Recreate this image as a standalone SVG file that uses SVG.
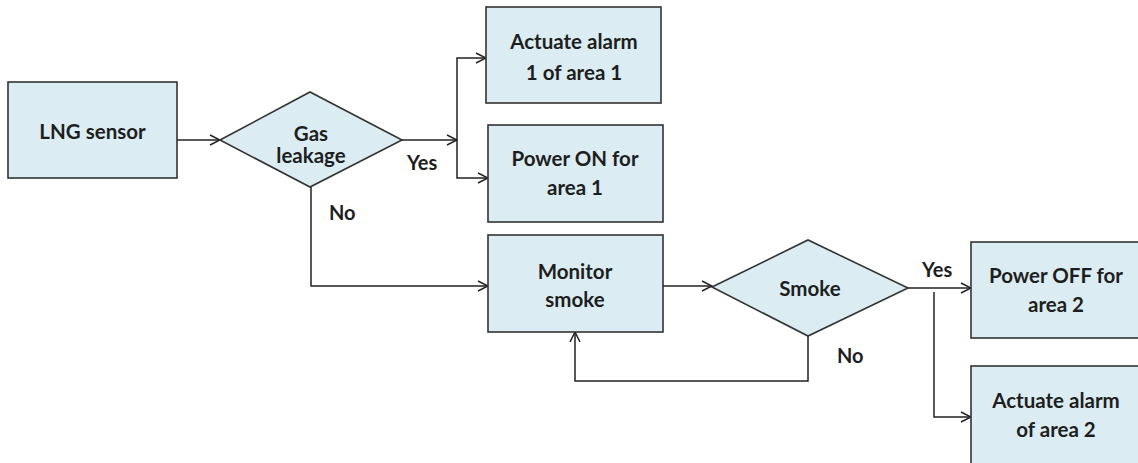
<svg xmlns="http://www.w3.org/2000/svg" width="1138" height="463" viewBox="0 0 1138 463">
  <style>
    .box { fill: #dbedf3; stroke: #333; stroke-width: 1.6; }
    .lbl { font-family: Lato, "Open Sans", "Liberation Sans", sans-serif; font-weight: bold; font-size: 20.5px; fill: #1e1e1e; text-anchor: middle; }
    .edge { fill: none; stroke: #222; stroke-width: 1.5; }
    .tag { font-family: Lato, "Open Sans", "Liberation Sans", sans-serif; font-weight: bold; font-size: 20px; fill: #1e1e1e; }
  </style>
  <defs>
    <marker id="arrow" viewBox="0 0 12 12" refX="11" refY="6" markerWidth="12" markerHeight="12" markerUnits="userSpaceOnUse" orient="auto">
      <path d="M1,1 L11,6 L1,11" fill="none" stroke="#222" stroke-width="1.5"/>
    </marker>
  </defs>

  <!-- connectors -->
  <g id="connectors">
    <path class="edge" d="M177,140 H220" marker-end="url(#arrow)"/>
    <path class="edge" d="M402,140 H457" marker-end="url(#arrow)"/>
    <path class="edge" d="M457,140 V58 H486" marker-end="url(#arrow)"/>
    <path class="edge" d="M457,140 V178 H488" marker-end="url(#arrow)"/>
    <path class="edge" d="M311,187 V286 H488" marker-end="url(#arrow)"/>
    <path class="edge" d="M663,286 H712" marker-end="url(#arrow)"/>
    <path class="edge" d="M808,336 V381 H575 V332" marker-end="url(#arrow)"/>
    <path class="edge" d="M908,288 H971" marker-end="url(#arrow)"/>
    <path class="edge" d="M934,292 V417 H971" marker-end="url(#arrow)"/>
    <text class="tag" x="407" y="170">Yes</text>
    <text class="tag" x="329" y="220">No</text>
    <text class="tag" x="922" y="277">Yes</text>
    <text class="tag" x="837" y="363">No</text>
  </g>

  <g id="lng-sensor">
    <rect class="box" x="8" y="82" width="169" height="96"/>
    <text class="lbl" x="92.5" y="139">LNG sensor</text>
  </g>

  <g id="gas-leakage">
    <polygon class="box" points="220,140 310,92 402,140 310,187"/>
    <text class="lbl" x="311" y="141">Gas</text>
    <text class="lbl" x="311" y="163">leakage</text>
  </g>

  <g id="alarm-area1">
    <rect class="box" x="486" y="7" width="175" height="96"/>
    <text class="lbl" x="574" y="49">Actuate alarm</text>
    <text class="lbl" x="574" y="80">1 of area 1</text>
  </g>

  <g id="power-on-area1">
    <rect class="box" x="488" y="125" width="175" height="97"/>
    <text class="lbl" x="575" y="166">Power ON for</text>
    <text class="lbl" x="575" y="195">area 1</text>
  </g>

  <g id="monitor-smoke">
    <rect class="box" x="488" y="235" width="175" height="97"/>
    <text class="lbl" x="575" y="279">Monitor</text>
    <text class="lbl" x="575" y="307">smoke</text>
  </g>

  <g id="smoke">
    <polygon class="box" points="712,287 808,240 908,288 808,336"/>
    <text class="lbl" x="810" y="296">Smoke</text>
  </g>

  <g id="power-off-area2">
    <rect class="box" x="971" y="242" width="180" height="96"/>
    <text class="lbl" x="1056" y="283">Power OFF for</text>
    <text class="lbl" x="1056" y="312">area 2</text>
  </g>

  <g id="alarm-area2">
    <rect class="box" x="971" y="366" width="180" height="110"/>
    <text class="lbl" x="1056" y="408">Actuate alarm</text>
    <text class="lbl" x="1056" y="437">of area 2</text>
  </g>
</svg>
